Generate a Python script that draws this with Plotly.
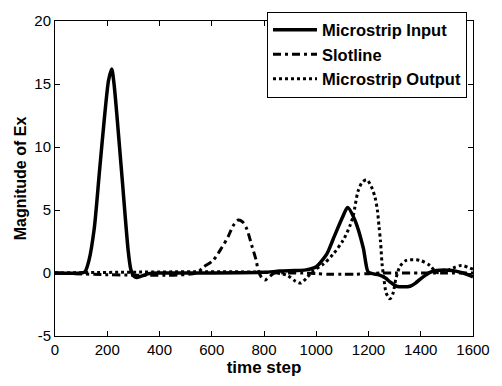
import plotly.graph_objects as go

# Time steps and field magnitudes for each line
t_input = [0, 100, 115, 130, 150, 170, 190, 205, 217, 226, 255, 280, 290, 300,
           312, 330, 360, 400, 600, 800, 860, 920, 960, 1000, 1040, 1065, 1100, 1120,
           1148, 1180, 1198, 1215, 1240, 1265, 1282, 1307, 1335, 1359, 1380,
           1397, 1420, 1435, 1460, 1520, 1562, 1600]
v_input = [0, 0, 0.1, 1.0, 3.5, 8.0, 12.5, 15.3, 16.2, 15.0, 8.0, 1.8, 0.3, -0.2,
           -0.35, -0.25, -0.05, 0, 0, 0.05, 0.15, 0.2, 0.25, 0.5, 1.5, 2.7, 4.4, 5.2,
           4.2, 2.0, 0.1, -0.05, -0.15, -0.4, -0.7, -1.05, -1.1, -1.05, -0.8,
           -0.5, -0.15, 0.05, 0.2, 0.2, 0.0, -0.3]

t_slot = [0, 540, 567, 605, 638, 663, 682, 702, 718, 734, 753, 770, 778, 792, 805,
          820, 840, 880, 950, 1000, 1050, 1100, 1150, 1200, 1250, 1300, 1400, 1500, 1600]
v_slot = [0, 0, 0.45, 1.0, 2.0, 2.9, 3.75, 4.2, 4.05, 3.5, 2.2, 1.0, 0.2, -0.4, -0.55,
          -0.3, 0, 0, 0, -0.05, -0.1, -0.1, -0.1, -0.05, 0, 0, 0, 0, 0]

t_output = [0, 850, 890, 920, 940, 963, 989, 1027, 1065, 1103, 1129, 1142, 1160, 1176,
            1193, 1210, 1225, 1234, 1240, 1246, 1252, 1258, 1268, 1282, 1294, 1304,
            1320, 1345, 1397, 1435, 1460, 1490, 1524, 1555, 1588, 1600]
v_output = [0, 0, -0.2, -0.65, -0.8, -0.4, 0.2, 0.7, 1.5, 2.6, 3.75, 4.6, 6.5, 7.2,
            7.4, 6.9, 6.0, 5.0, 3.75, 2.5, 0.7, -0.3, -1.6, -2.05, -1.6, -0.55,
            0.5, 1.0, 1.0, 0.6, 0.05, 0.1, 0.4, 0.6, 0.4, 0.3]

x_ticks = [0, 200, 400, 600, 800, 1000, 1200, 1400, 1600]
y_ticks = [-5, 0, 5, 10, 15, 20]

FONT = "Arial, Liberation Sans, Helvetica, sans-serif"

fig = go.Figure()
fig.add_trace(go.Scatter(x=t_input, y=v_input, mode="lines", name="<b>Microstrip Input</b>",
                         line=dict(color="black", width=3.5, shape="spline", smoothing=0.7)))
fig.add_trace(go.Scatter(x=t_slot, y=v_slot, mode="lines", name="<b>Slotline</b>",
                         line=dict(color="black", width=3, dash="8px,4px,3px,4px",
                                   shape="spline", smoothing=0.8)))
fig.add_trace(go.Scatter(x=t_output, y=v_output, mode="lines", name="<b>Microstrip Output</b>",
                         line=dict(color="black", width=3, dash="3px,3px",
                                   shape="spline", smoothing=0.8)))

axis_common = dict(showline=True, linecolor="black", linewidth=1, mirror="ticks",
                   ticks="inside", ticklen=5, tickcolor="black", showgrid=False,
                   zeroline=False, tickfont=dict(family=FONT, size=15, color="black"))

fig.update_xaxes(range=[0, 1600], tickvals=x_ticks, ticktext=[str(v) for v in x_ticks],
                 title=dict(text="<b>time step</b>", font=dict(family=FONT, size=17, color="black"),
                            standoff=4),
                 **axis_common)
fig.update_yaxes(range=[-5, 20], tickvals=y_ticks, ticktext=[str(v) for v in y_ticks],
                 title=dict(text="<b>Magnitude of Ex</b>", font=dict(family=FONT, size=16, color="black"),
                            standoff=3),
                 **axis_common)

fig.update_layout(
    width=502, height=386,
    margin=dict(l=55, r=29, t=13, b=44),
    paper_bgcolor="white", plot_bgcolor="white",
    font=dict(family=FONT, color="black"),
    legend=dict(x=0.9856, y=1.03, xanchor="right", yanchor="top",
                bordercolor="black", borderwidth=1, bgcolor="white",
                font=dict(family=FONT, size=16.5, color="black"),
                itemwidth=44, tracegroupgap=0),
    showlegend=True,
)

fig.write_html("out.html")
